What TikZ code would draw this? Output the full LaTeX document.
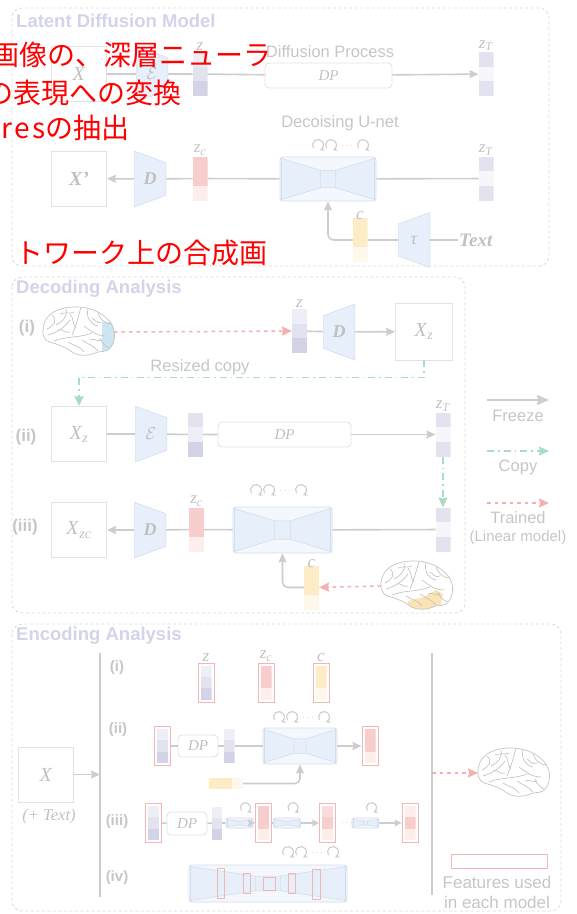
\documentclass[tikz,border=0pt]{standalone}
\usepackage{fontspec}
\setmainfont{Liberation Serif}
\setsansfont{Liberation Sans}
\newfontfamily\jpfont{Noto Sans CJK JP}
\usetikzlibrary{arrows.meta,calc,fit,positioning}

\definecolor{linegray}{HTML}{CDCDCD}
\definecolor{boxgray}{HTML}{E2E2E2}
\definecolor{framegray}{HTML}{DADADA}
\definecolor{txtgray}{HTML}{C6C6C6}
\definecolor{mathgray}{HTML}{C0C0C0}
\definecolor{titlelav}{HTML}{D3D3EA}
\definecolor{netfill}{HTML}{E7EFFA}
\definecolor{netedge}{HTML}{D2DEEE}
\definecolor{netbg}{HTML}{F4F7FC}
\definecolor{lavA}{HTML}{D3D3E7}
\definecolor{lavB}{HTML}{E3E3F0}
\definecolor{lavC}{HTML}{EEEEF6}
\definecolor{lavD}{HTML}{F7F7FB}
\definecolor{redA}{HTML}{F8CDCD}
\definecolor{redB}{HTML}{FADCDC}
\definecolor{redC}{HTML}{FDEDEB}
\definecolor{yelA}{HTML}{FCEDC6}
\definecolor{yelC}{HTML}{FEF8EA}
\definecolor{copygreen}{HTML}{A8DDC3}
\definecolor{trainred}{HTML}{F6AEAE}
\definecolor{featred}{HTML}{F2B6B6}
\definecolor{brainline}{HTML}{C4C4C4}
\definecolor{occblue}{HTML}{CDE5F3}
\definecolor{tmporange}{HTML}{FBE3B5}

\newcommand{\ppb}{path picture bounding box}

% brain outline, lateral view, front to the left
\newcommand{\brainpath}{plot[smooth cycle, tension=0.7] coordinates {(-35,-2) (-31,-14) (-20,-22) (-4,-25) (12,-23) (26,-16) (35,-5) (36,8) (30,18) (20,20) (10,23) (-2,22) (-12,16) (-22,12) (-32,8)}}
\newcommand{\brainsulci}{%
  \draw[brainstroke] \brainpath;
  \draw[brainstroke] (3,-25) .. controls (0,-14) and (-2,-6) .. (-6,3);
  \draw[brainstroke] (-24,9) .. controls (-12,4) and (2,6) .. (14,1);
  \draw[brainstroke] (-26,-17) .. controls (-20,-12) and (-24,-6) .. (-31,-3);
  \draw[brainstroke] (-12,-23) .. controls (-10,-15) and (-16,-10) .. (-22,-7);
  \draw[brainstroke] (-8,-12) .. controls (-14,-4) and (-20,0) .. (-30,3);
  \draw[brainstroke] (10,-23) .. controls (8,-15) and (12,-8) .. (20,-6);
  \draw[brainstroke] (20,-19) .. controls (22,-12) and (28,-8) .. (34,-8);
  \draw[brainstroke] (6,-6) .. controls (12,-2) and (18,4) .. (28,4);
  \draw[brainstroke] (22,6) .. controls (24,12) and (28,14) .. (31,16);
  \draw[brainstroke] (-10,10) .. controls (-4,14) and (2,14) .. (6,20);
  \draw[brainstroke] (4,8) .. controls (10,12) and (16,14) .. (20,19);
  \draw[brainstroke] (-18,-18) .. controls (-14,-20) and (-8,-18) .. (-4,-20);
  \draw[brainstroke] (-2,-4) .. controls (-6,-8) and (-4,-14) .. (-8,-18);
  \draw[brainstroke] (14,-14) .. controls (18,-12) and (18,-8) .. (24,-10);
  \draw[brainstroke] (-20,-2) .. controls (-16,-4) and (-12,2) .. (-8,0);
  \draw[brainstroke] (12,8) .. controls (16,6) and (20,10) .. (24,8);
  \coordinate (-w) at (-35,0);
  \coordinate (-e) at (36,0);}

% recurrent steps drawn over a U-net
\newcommand{\unetloops}[2]{%
  \foreach \lx in {6,19,51}
    \draw[loopy] ($#2+(\lx,0)+(215:5.5pt)$) arc[start angle=215, end angle=-70, radius=5.5pt];
  \node[dotsy] (#1) at ($#2+(35,1)$) {$\cdots$};}

\begin{document}
\begin{tikzpicture}[x=1pt, y=-1pt,
    frame/.style={draw=framegray, dash pattern=on 3pt off 2.5pt, rounded corners=10pt, line width=0.8pt},
    title/.style={font=\sffamily\bfseries\fontsize{18.5}{20}\selectfont, text=titlelav, anchor=west, inner sep=0pt},
    lbl/.style={font=\sffamily\fontsize{16.5}{18}\selectfont, text=txtgray, inner sep=1pt},
    numlbl/.style={font=\sffamily\bfseries\fontsize{17}{18}\selectfont, text=txtgray, inner sep=0pt},
    mlab/.style={font=\fontsize{17}{18}\selectfont, text=mathgray, inner sep=1pt},
    jp/.style={font=\jpfont\fontsize{28}{30}\selectfont, text=red, anchor=east, inner sep=0pt},
    conn/.style={draw=linegray, line width=1.6pt},
    arr/.style={conn, -{Stealth[length=9pt, width=8pt, inset=1pt]}},
    trainline/.style={draw=trainred, line width=1.5pt, dash pattern=on 3.5pt off 4pt, -{Stealth[length=10pt, width=9pt, inset=1pt]}},
    copyline/.style={draw=copygreen, line width=1.5pt, dash pattern=on 7pt off 4pt on 1.5pt off 4pt, -{Stealth[length=10pt, width=9pt, inset=1pt]}},
    sepline/.style={draw=linegray, line width=2pt},
    imgbox/.style={draw=boxgray, line width=0.9pt, minimum width=55pt, minimum height=55pt, inner sep=0pt,
      font=\fontsize{20}{22}\selectfont, text=mathgray},
    dpbox/.style={draw=boxgray, line width=0.9pt, rounded corners=4pt, inner sep=0pt,
      font=\itshape\fontsize{15}{16}\selectfont, text=mathgray},
    netpart/.style={fill=netfill, draw=netedge, line width=0.6pt, sharp corners},
    brainstroke/.style={draw=brainline, line width=0.7pt},
    loopy/.style={draw=linegray, line width=1.1pt, -{Stealth[length=4.5pt, width=4.5pt]}},
    dotsy/.style={text=linegray, inner sep=0pt, font=\fontsize{10}{10}\selectfont},
    featbox/.style={draw=featred, line width=0.9pt, inner sep=2.5pt},
    fsize/.style={minimum width=11pt, minimum height=34pt},
    vec/.style n args={3}{minimum width=15pt, minimum height=44pt, inner sep=0pt, outer sep=0pt, path picture={
      \fill[#1] (\ppb.north west) rectangle ($(\ppb.north east)!1/3!(\ppb.south east)$);
      \fill[#2] ($(\ppb.north west)!1/3!(\ppb.south west)$) rectangle ($(\ppb.north east)!2/3!(\ppb.south east)$);
      \fill[#3] ($(\ppb.north west)!2/3!(\ppb.south west)$) rectangle (\ppb.south east);}},
    hvec/.style n args={3}{minimum width=34pt, minimum height=11pt, inner sep=0pt, outer sep=0pt, path picture={
      \fill[#1] (\ppb.north west) rectangle ($(\ppb.south west)!1/3!(\ppb.south east)$);
      \fill[#2] ($(\ppb.north west)!1/3!(\ppb.north east)$) rectangle ($(\ppb.south west)!2/3!(\ppb.south east)$);
      \fill[#3] ($(\ppb.north west)!2/3!(\ppb.north east)$) rectangle (\ppb.south east);}},
    trapL/.style={minimum width=32pt, minimum height=56pt, inner sep=0pt, font=\fontsize{18}{18}\selectfont, text=mathgray,
      path picture={\filldraw[netpart] (\ppb.north west) -- ($(\ppb.north east)!0.21!(\ppb.south east)$)
        -- ($(\ppb.south east)!0.21!(\ppb.north east)$) -- (\ppb.south west) -- cycle;}},
    trapR/.style={minimum width=32pt, minimum height=56pt, inner sep=0pt, font=\fontsize{18}{18}\selectfont, text=mathgray,
      path picture={\filldraw[netpart] (\ppb.north east) -- ($(\ppb.north west)!0.21!(\ppb.south west)$)
        -- ($(\ppb.south west)!0.21!(\ppb.north west)$) -- (\ppb.south east) -- cycle;}},
    unet/.style={draw=netedge, fill=netbg, line width=0.8pt, rounded corners=3pt, inner sep=0pt,
      path picture={\path[netpart] let \p1=(\ppb.south west), \p2=(\ppb.north east),
          \n1={\x2-\x1}, \n2={\y2-\y1} in
        ({\x1+1.5pt},{\y1+1.5pt}) -- ({\x1+1.5pt},{\y2-1.5pt}) -- ({\x1+0.42*\n1},{\y2-0.3*\n2}) -- ({\x1+0.42*\n1},{\y1+0.3*\n2}) -- cycle
        ({\x1+0.42*\n1},{\y1+0.3*\n2}) rectangle ({\x1+0.58*\n1},{\y2-0.3*\n2})
        ({\x2-1.5pt},{\y1+1.5pt}) -- ({\x2-1.5pt},{\y2-1.5pt}) -- ({\x1+0.58*\n1},{\y2-0.3*\n2}) -- ({\x1+0.58*\n1},{\y1+0.3*\n2}) -- cycle;}},
    smallnet/.style={unet, minimum width=27pt, minimum height=10pt, rounded corners=2pt},
    brain/.pic={\brainsulci},
    brain occ/.pic={\begin{scope}\clip \brainpath; \fill[occblue] (24,-10) rectangle (40,26);\end{scope}\brainsulci},
    brain tmp/.pic={\begin{scope}\clip \brainpath; \fill[tmporange] (-8,15) -- (8,11) -- (20,4) -- (27,8) -- (24,24) -- (-8,26) -- cycle;\end{scope}\brainsulci}]
\useasboundingbox (0,0) rectangle (577,914);

% Frames and titles
\draw[frame] (12,8) rectangle (549,266);
\draw[frame] (12,277) rectangle (465,613);
\draw[frame] (12,624) rectangle (561,911);
\node[title] (ldm) at (16,21) {Latent Diffusion Model};
\node[title] (dec) at (16,289) {Decoding Analysis};
\node[title] (enc) at (16,636) {Encoding Analysis};

% LDM: forward path
\node[imgbox] (x1) at (79,74) {\textit{X}};
\node[trapL] (e1) at (152,74) {$\mathcal{E}$};
\node[vec={lavC}{lavB}{lavA}] (z1) at (200,74) {};
\node[mlab, above=0pt of z1] (z1l) {\textit{z}};
\node[dpbox, minimum width=127pt, minimum height=25pt] (dp1) at (328.5,75.5) {DP};
\node[lbl] (dp1l) at (330,52) {Diffusion Process};
\node[vec={lavB}{lavD}{lavB}] (zt1) at (486,74) {};
\node[mlab, above=0pt of zt1] (zt1l) {\textit{z}\textsubscript{\textit{T}}};
\draw[conn] (x1) -- (e1) (e1) -- (z1) (z1) -- (dp1);
\draw[arr] (dp1) -- (zt1);

% LDM: denoising path
\node[imgbox] (xp) at (79,178.5) {\textbf{\textit{X'}}};
\node[trapL] (d1) at (150,179) {\textbf{\textit{D}}};
\node[vec={redA}{redA}{redC}] (zc1) at (200,178.5) {};
\node[mlab, above=0pt of zc1] (zc1l) {\textit{z}\textsubscript{\textit{c}}};
\node[unet, minimum width=96pt, minimum height=44pt] (u1) at (328,179) {};
\node[lbl] (u1l) at (340,123) {Decoising U-net};
\unetloops{u1d}{(312,145)}
\node[vec={lavB}{lavD}{lavB}] (zt2) at (486,178.5) {};
\node[mlab, above=0pt of zt2] (zt2l) {\textit{z}\textsubscript{\textit{T}}};
\node[vec={yelA}{yelA}{yelC}] (c1) at (360,240) {};
\node[mlab, above=-3pt of c1] (c1l) {\textit{c}};
\node[trapR, minimum height=55pt] (tau) at (414,240) {\textit{τ}};
\node[mlab, anchor=west, font=\fontsize{19}{20}\selectfont] (txt) at (458,240) {\textbf{\textit{Text}}};
\draw[arr] (d1) -- (xp);
\draw[conn] (zc1) -- (d1) (u1) -- (zc1) (zt2) -- (u1) (c1) -- (tau) (tau) -- (txt);
\draw[arr, rounded corners=6pt] (c1.west) -| (u1.south);

% Decoding (i)
\node[numlbl] (n1) at (27,328) {(i)};
\pic (b1) at (78,332) {brain occ};
\node[vec={lavC}{lavB}{lavA}] (z3) at (299.5,331) {};
\node[mlab, above=0pt of z3] (z3l) {\textit{z}};
\node[trapR] (d3) at (339,332) {\textbf{\textit{D}}};
\node[imgbox, minimum size=57pt] (xz1) at (424,331.5) {\textit{X}\textsubscript{\textit{z}}};
\draw[trainline] (b1-e) -- (z3);
\draw[conn] (z3) -- (d3);
\draw[arr] (d3) -- (xz1);

% Decoding (ii)
\node[numlbl] (n2) at (26,437) {(ii)};
\node[imgbox] (xz2) at (79,434) {\textit{X}\textsubscript{\textit{z}}};
\node[trapL] (e2) at (151,434) {$\mathcal{E}$};
\node[vec={lavB}{lavC}{lavA}] (v2) at (195.5,434.5) {};
\node[dpbox, minimum width=133pt, minimum height=25pt] (dp2) at (284.5,434.5) {DP};
\node[vec={lavB}{lavD}{lavB}] (zt3) at (443,434.5) {};
\node[mlab, above=0pt of zt3] (zt3l) {\textit{z}\textsubscript{\textit{T}}};
\draw[conn] (xz2) -- (e2) (e2) -- (v2) (v2) -- (dp2);
\draw[arr] (dp2) -- (zt3);
\draw[copyline] (xz1.south) -- ++(0,17) -| (xz2.north);
\node[lbl] (rsz) at (200,367) {Resized copy};

% Decoding (iii)
\node[numlbl] (n3) at (25,527) {(iii)};
\node[imgbox] (xzc) at (79,530) {\textit{X}\textsubscript{\textit{zc}}};
\node[trapL] (d4) at (150,530) {\textbf{\textit{D}}};
\node[vec={redA}{redA}{redC}] (zc2) at (196.5,529.5) {};
\node[mlab, above=0pt of zc2] (zc2l) {\textit{z}\textsubscript{\textit{c}}};
\node[unet, minimum width=99pt, minimum height=46pt] (u2) at (282.5,530) {};
\unetloops{u2d}{(250,490)}
\node[vec={lavB}{lavD}{lavB}] (zt4) at (443,529.5) {};
\node[vec={yelA}{yelA}{yelC}] (c2) at (311.5,587.5) {};
\node[mlab, above=-3pt of c2] (c2l) {\textit{c}};
\pic (b2) at (416,586) {brain tmp};
\draw[arr] (d4) -- (xzc);
\draw[conn] (zc2) -- (d4) (u2) -- (zc2) (zt4) -- (u2);
\draw[arr, rounded corners=6pt] (c2.west) -| (u2.south);
\draw[copyline] (zt3) -- (zt4);
\draw[trainline] (b2-w) -- (c2);

% Legend
\coordinate (fza) at (487,400); \coordinate (fzb) at (549,400);
\coordinate (cpa) at (487,451); \coordinate (cpb) at (549,451);
\coordinate (tra) at (487,503); \coordinate (trb) at (549,503);
\draw[arr, -{Stealth[length=12pt, width=10pt, inset=1pt]}] (fza) -- (fzb);
\draw[copyline] (cpa) -- (cpb);
\draw[trainline] (tra) -- (trb);
\node[lbl] (fzl) at (518,416) {Freeze};
\node[lbl] (cpl) at (518,467) {Copy};
\node[lbl] (trl) at (518,518) {Trained};
\node[lbl, font=\sffamily\fontsize{15}{16}\selectfont] (trl2) at (518,538) {(Linear model)};

% Encoding: input and separators
\node[imgbox] (x3) at (46,774.5) {\textit{X}};
\node[mlab, font=\itshape\fontsize{16.5}{18}\selectfont] (x3t) at (49,817) {(+ Text)};
\coordinate (vl1) at (100,653); \coordinate (vl2) at (100,897);
\coordinate (vr1) at (432,653); \coordinate (vr2) at (432,895);
\draw[sepline] (vl1) -- (vl2);
\draw[sepline] (vr1) -- (vr2);
\draw[arr] (x3) -- (x3 -| vl1);
\node[numlbl, font=\sffamily\bfseries\fontsize{15}{16}\selectfont] (m1) at (117,668) {(i)};
\node[numlbl, font=\sffamily\bfseries\fontsize{15}{16}\selectfont] (m2) at (118,730) {(ii)};
\node[numlbl, font=\sffamily\bfseries\fontsize{15}{16}\selectfont] (m3) at (117,822) {(iii)};
\node[numlbl, font=\sffamily\bfseries\fontsize{15}{16}\selectfont] (m4) at (117,878) {(iv)};

% Encoding (i)
\node[vec={lavC}{lavB}{lavA}, fsize] (ez) at (206,682.5) {};
\node[featbox, fit=(ez)] (fez) {};
\node[mlab, above=0pt of fez] (ezl) {\textit{z}};
\node[vec={redA}{redA}{redC}, fsize] (ezc) at (266,682.5) {};
\node[featbox, fit=(ezc)] (fezc) {};
\node[mlab, above=0pt of fezc] (ezcl) {\textit{z}\textsubscript{\textit{c}}};
\node[vec={yelA}{yelA}{yelC}, fsize] (ec) at (321,682.5) {};
\node[featbox, fit=(ec)] (fec) {};
\node[mlab, above=0pt of fec] (ecl) {\textit{c}};

% Encoding (ii)
\node[vec={lavC}{lavB}{lavA}, fsize] (e21) at (162.5,746) {};
\node[featbox, fit=(e21)] (f21) {};
\node[dpbox, minimum width=40pt, minimum height=22pt] (dp3) at (198,746) {DP};
\node[vec={lavC}{lavB}{lavA}, fsize] (e22) at (229,746) {};
\node[unet, minimum width=74pt, minimum height=36pt] (u3) at (300,746) {};
\unetloops{u3d}{(273,717)}
\node[vec={redA}{redA}{redC}, fsize] (e23) at (370,746) {};
\node[featbox, fit=(e23)] (f23) {};
\node[hvec={yelA}{yelA}{yelC}] (h1) at (226,783.5) {};
\draw[conn] (f21) -- (dp3) (dp3) -- (e22) (e22) -- (u3);
\draw[arr] (u3) -- (f23);
\draw[arr, rounded corners=5pt] (h1.east) -| (u3.south);
\pic (b3) at (513,773) {brain};
\draw[trainline] (b3-w -| vr1) -- (b3-w);

% Encoding (iii)
\node[vec={lavC}{lavB}{lavA}, fsize] (e31) at (153.5,823) {};
\node[featbox, fit=(e31)] (f31) {};
\node[dpbox, minimum width=40pt, minimum height=23pt] (dp4) at (187,823.5) {DP};
\node[vec={lavC}{lavB}{lavA}, minimum width=10pt, minimum height=33pt] (e32) at (217,823) {};
\node[smallnet] (ua) at (239.5,823) {};
\node[vec={redA}{redA}{redC}, fsize] (e33) at (263.5,823) {};
\node[featbox, fit=(e33)] (f33) {};
\node[smallnet] (ub) at (287,823) {};
\node[vec={redB}{redA}{redC}, fsize] (e34) at (327.5,823) {};
\node[featbox, fit=(e34)] (f34) {};
\node[dotsy] (edots) at (347,823) {$\cdots$};
\node[smallnet] (uc) at (365.5,823) {};
\node[vec={redC}{redA}{redC}, fsize] (e35) at (410,823) {};
\node[featbox, fit=(e35)] (f35) {};
\foreach \u in {ua,ub,uc}
  \draw[loopy] ($(\u.north)+(6,-10)+(215:5pt)$) arc[start angle=215, end angle=-70, radius=5pt];
\draw[conn] (f31) -- (dp4) (dp4) -- (e32) (e32) -- (ua) (f33) -- (ub);
\draw[arr, -{Stealth[length=7pt, width=7pt, inset=1pt]}] (ua) -- (f33);
\draw[arr, -{Stealth[length=7pt, width=7pt, inset=1pt]}] (ub) -- (f34);
\draw[arr, -{Stealth[length=7pt, width=7pt, inset=1pt]}] (uc) -- (f35);

% Encoding (iv)
\node[unet, minimum width=158pt, minimum height=37pt] (u4) at (268,883.5) {};
\unetloops{u4d}{(282,852)}
\draw[featred, line width=0.9pt] (217,868) rectangle (224,898) (243,873) rectangle (250,893)
  (263,877) rectangle (275,890) (288,873) rectangle (295,893) (312,869) rectangle (320,899);

% Legend for features
\node[draw=featred, line width=0.9pt, minimum width=96pt, minimum height=14pt] (fleg) at (499,861) {};
\node[lbl, font=\sffamily\fontsize{17}{18}\selectfont] (fl1) at (497,882) {Features used};
\node[lbl, font=\sffamily\fontsize{17}{18}\selectfont] (fl2) at (497,902) {in each model};

% Red notes on top
\node[jp] (jp1) at (272,55) {画像の、深層ニューラ};
\node[jp] (jp2) at (182,93) {の表現への変換};
\node[jp] (jp3) at (130,128) {{\addfontfeatures{LetterSpace=10}res}の抽出};
\node[jp] (jp4) at (268,253) {トワーク上の合成画};
\end{tikzpicture}
\end{document}
